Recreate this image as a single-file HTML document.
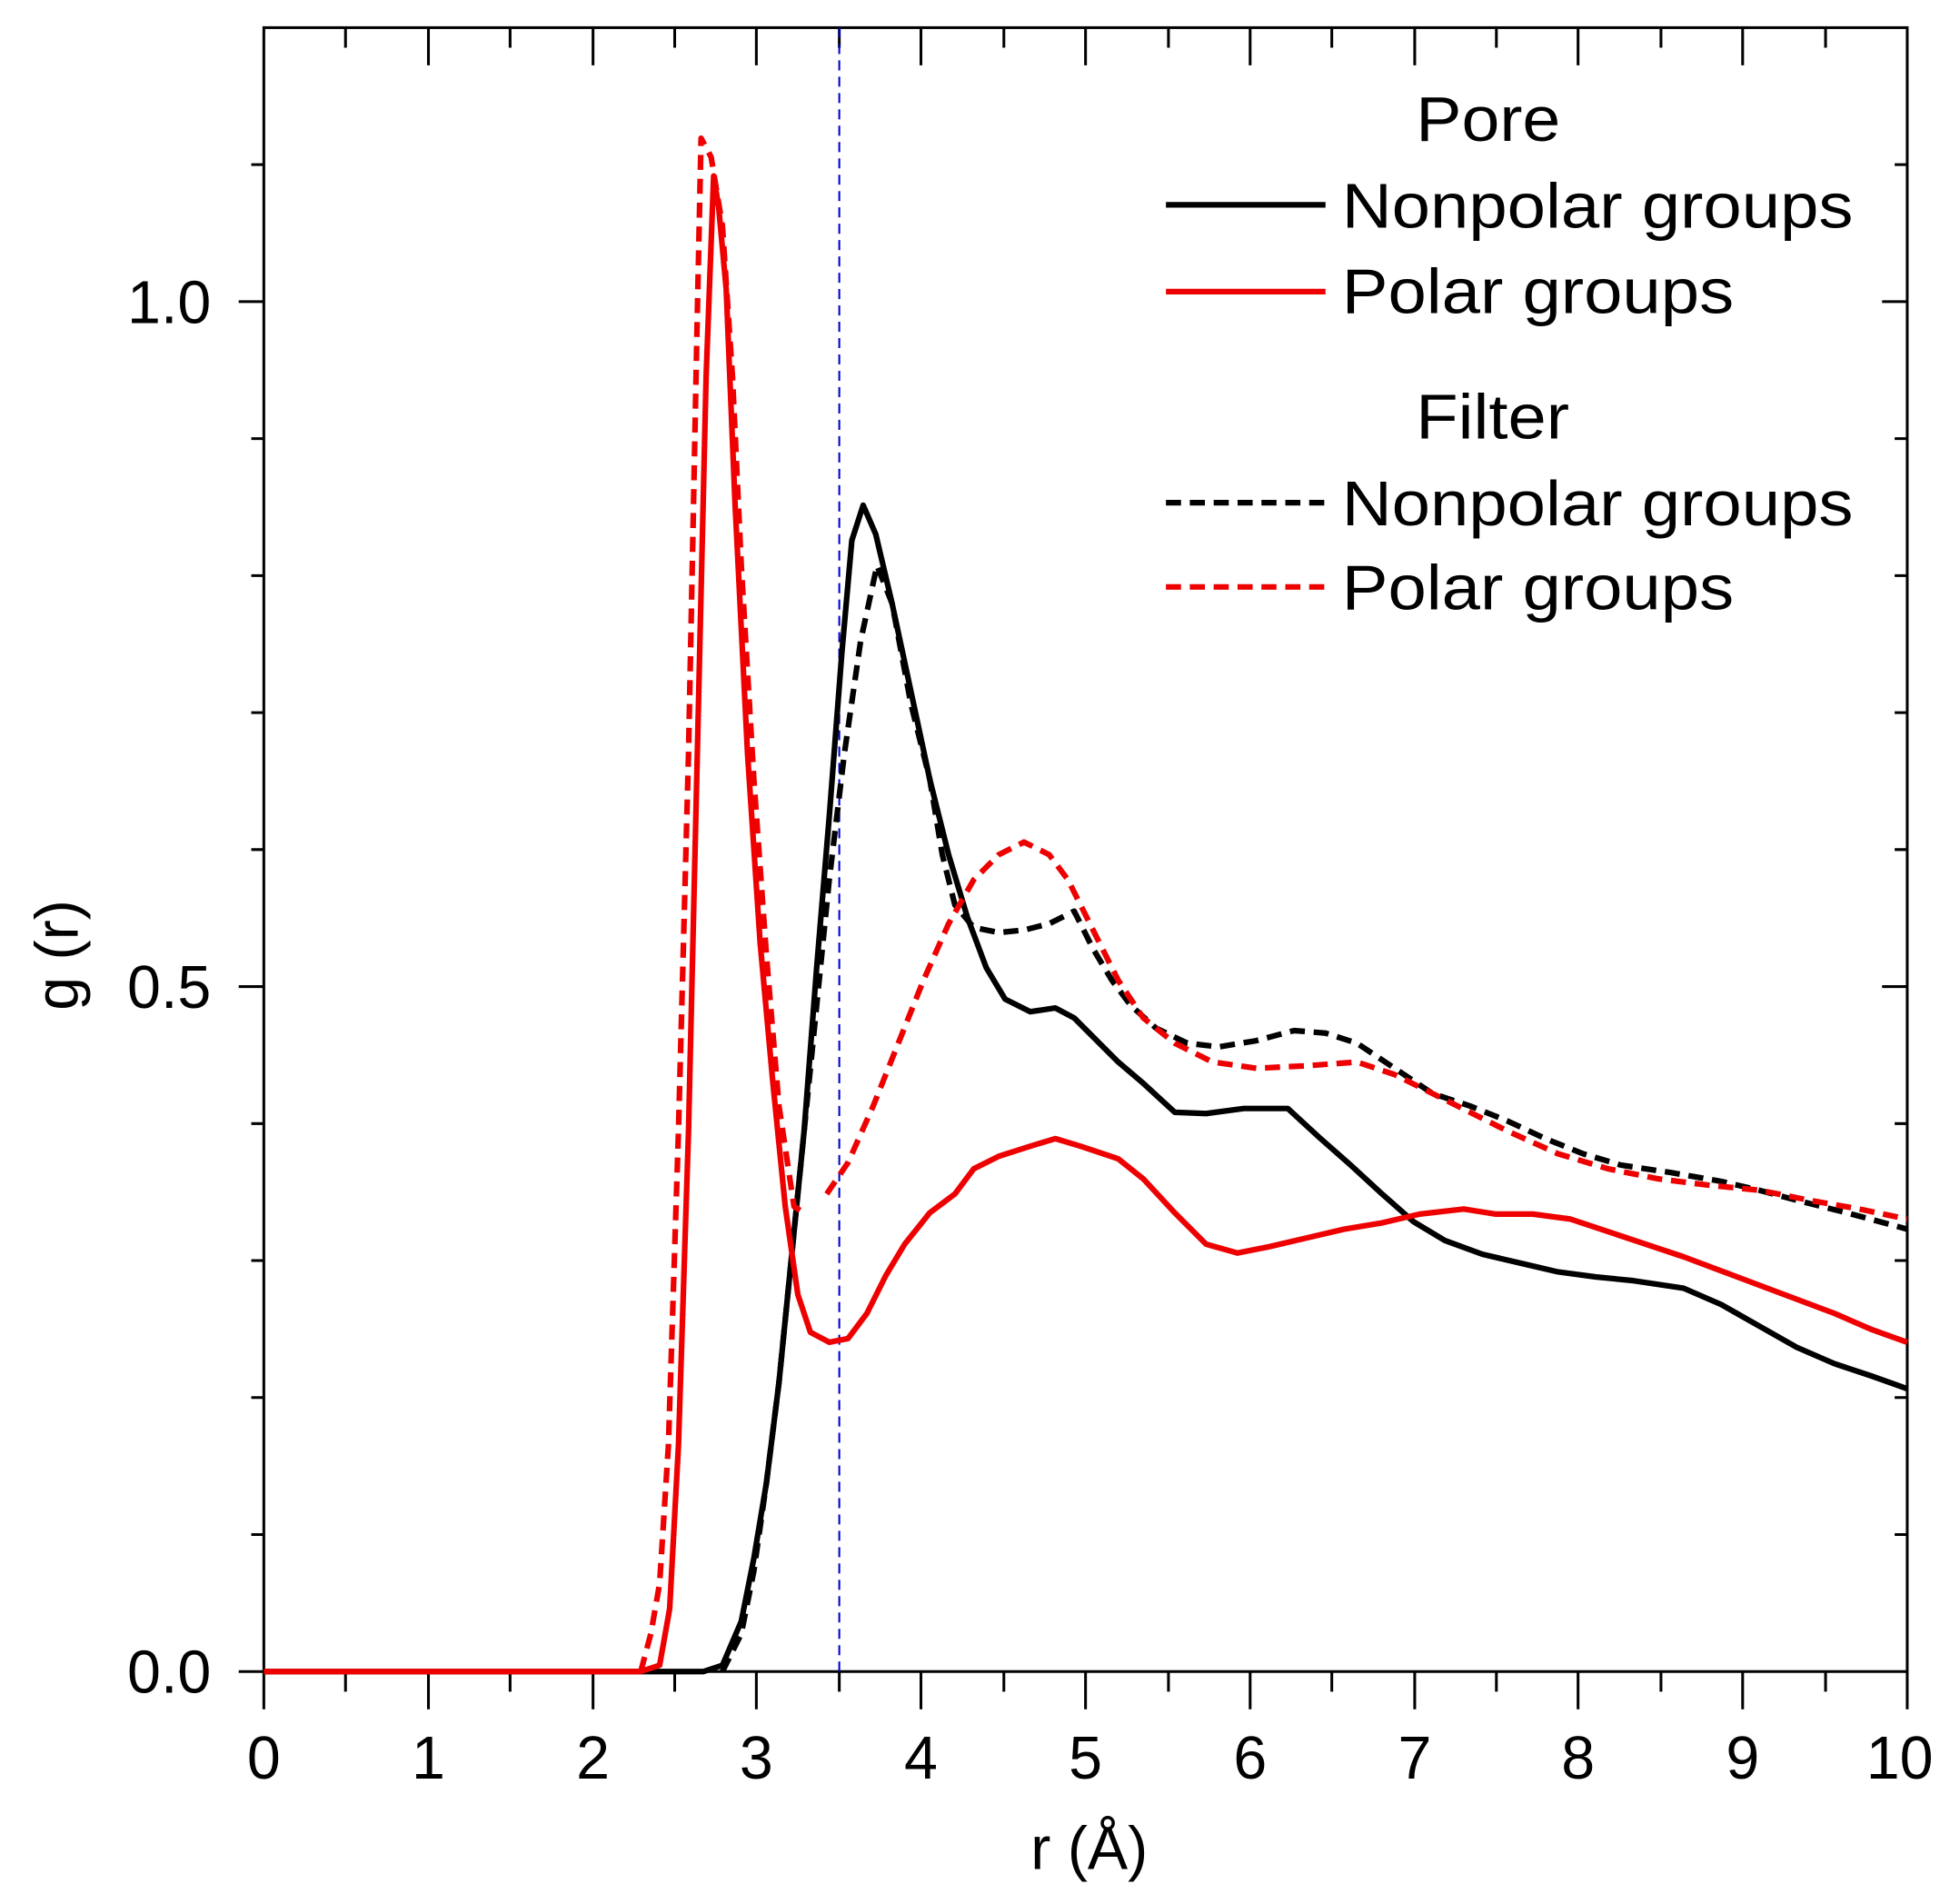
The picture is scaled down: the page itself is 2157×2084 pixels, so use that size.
<!DOCTYPE html>
<html><head><meta charset="utf-8"><style>html,body{margin:0;padding:0;background:#fff}svg{display:block}</style></head>
<body>
<svg width="2157" height="2084" viewBox="0 0 1560 1507" preserveAspectRatio="none" xmlns="http://www.w3.org/2000/svg" font-family="Liberation Sans, sans-serif">
<rect width="1560" height="1507" fill="#fff"/>
<g stroke="#000" stroke-width="2.2" fill="none">
<rect x="210" y="22" width="1308" height="1308"/>
<path d="M210 1330v30M341 1330v30M472 1330v30M602 1330v30M733 1330v30M864 1330v30M995 1330v30M1126 1330v30M1256 1330v30M1387 1330v30M1518 1330v30
M275 1330v16M406 1330v16M537 1330v16M668 1330v16M799 1330v16M930 1330v16M1060 1330v16M1191 1330v16M1322 1330v16M1453 1330v16"/>
<path d="M341 22v30M472 22v30M602 22v30M733 22v30M864 22v30M995 22v30M1126 22v30M1256 22v30M1387 22v30
M275 22v16M406 22v16M537 22v16M668 22v16M799 22v16M930 22v16M1060 22v16M1191 22v16M1322 22v16M1453 22v16"/>
<path d="M210 1330h-20M210 785h-20M210 240h-20M210 1221h-10M210 1112h-10M210 1003h-10M210 894h-10M210 676h-10M210 567h-10M210 458h-10M210 349h-10M210 131h-10"/>
<path d="M1518 785h-20M1518 240h-20M1518 1221h-10M1518 1112h-10M1518 1003h-10M1518 894h-10M1518 676h-10M1518 567h-10M1518 458h-10M1518 349h-10M1518 131h-10"/>
</g>
<line x1="668" y1="22" x2="668" y2="1330" stroke="#0000cc" stroke-width="1.5" stroke-dasharray="8,5"/>
<g font-size="48" fill="#000" text-anchor="middle">
<text x="210" y="1415">0</text><text x="341" y="1415">1</text><text x="472" y="1415">2</text><text x="602" y="1415">3</text><text x="733" y="1415">4</text><text x="864" y="1415">5</text><text x="995" y="1415">6</text><text x="1126" y="1415">7</text><text x="1256" y="1415">8</text><text x="1387" y="1415">9</text><text x="1512" y="1415">10</text>
<text x="867" y="1487" font-size="48">r (Å)</text>
<text transform="translate(62,760) rotate(-90)" font-size="48">g (r)</text>
</g>
<g font-size="48" fill="#000" text-anchor="end">
<text x="168" y="1347">0.0</text><text x="168" y="802">0.5</text><text x="168" y="257">1.0</text>
</g>
<g fill="none" stroke-width="4.5" stroke-linejoin="round">
<polyline stroke="#000" points="210,1330 560,1330 575,1325 590,1290 600,1240 610,1180 620,1100 630,1000 640,900 650,770 660,650 670,520 678,430 687,402 697,425 710,480 725,550 740,620 755,680 770,730 785,770 800,795 820,805 840,802 855,810 870,825 890,845 910,862 935,885 960,886 990,882 1025,882 1050,905 1075,927 1100,950 1125,972 1150,987 1180,998 1210,1005 1240,1012 1270,1016 1300,1019 1340,1025 1370,1038 1400,1055 1430,1072 1460,1085 1490,1095 1518,1105"/>
<polyline stroke="#000" stroke-dasharray="12,7" points="575,1330 590,1300 600,1250 610,1180 620,1100 630,1000 645,850 660,700 672,600 685,510 698,450 710,480 725,560 740,620 750,680 760,720 775,738 795,742 815,740 835,735 855,725 870,755 885,780 900,800 920,818 945,830 970,833 1000,828 1030,820 1055,822 1080,830 1110,850 1140,870 1170,880 1200,892 1230,906 1260,918 1290,927 1330,933 1370,940 1400,947 1430,955 1470,965 1518,978"/>
<polyline stroke="#e00" points="210,1330 510,1330 525,1325 533,1280 540,1150 548,900 555,600 562,300 568,140 572,165 578,230 585,400 595,600 605,750 615,860 625,960 635,1030 645,1060 660,1068 675,1065 690,1045 705,1015 720,990 740,965 760,950 775,930 795,920 820,912 840,906 860,912 890,922 910,938 935,965 960,990 985,997 1010,992 1040,985 1070,978 1100,973 1130,966 1165,962 1190,966 1220,966 1250,970 1280,980 1310,990 1340,1000 1380,1015 1420,1030 1460,1045 1490,1058 1518,1068"/>
<polyline stroke="#e00" stroke-dasharray="12,7" points="510,1330 518,1300 525,1260 532,1150 540,900 548,600 555,250 558,110 566,125 575,180 583,300 590,450 600,620 610,760 620,880 632,960 640,965"/>
<polyline stroke="#e00" stroke-dasharray="12,7" points="658,950 675,925 695,880 715,830 735,780 755,735 775,700 795,680 815,670 835,680 850,700 870,740 890,780 910,810 935,830 965,845 1000,850 1040,848 1080,845 1110,855 1140,870 1170,885 1200,900 1240,918 1280,930 1320,938 1360,943 1400,947 1440,955 1480,962 1518,970"/>
<line x1="928" y1="163" x2="1055" y2="163" stroke="#000"/>
<line x1="928" y1="232" x2="1055" y2="232" stroke="#e00"/>
<line x1="928" y1="400" x2="1055" y2="400" stroke="#000" stroke-dasharray="12,7"/>
<line x1="928" y1="467" x2="1055" y2="467" stroke="#e00" stroke-dasharray="12,7"/>
</g>
<g font-size="50" fill="#000">
<text x="1127" y="112" textLength="115" lengthAdjust="spacingAndGlyphs">Pore</text>
<text x="1068" y="181" textLength="407" lengthAdjust="spacingAndGlyphs">Nonpolar groups</text>
<text x="1068" y="249" textLength="312" lengthAdjust="spacingAndGlyphs">Polar groups</text>
<text x="1127" y="349" textLength="122" lengthAdjust="spacingAndGlyphs">Filter</text>
<text x="1068" y="418" textLength="407" lengthAdjust="spacingAndGlyphs">Nonpolar groups</text>
<text x="1068" y="485" textLength="312" lengthAdjust="spacingAndGlyphs">Polar groups</text>
</g>
</svg>
</body></html>
